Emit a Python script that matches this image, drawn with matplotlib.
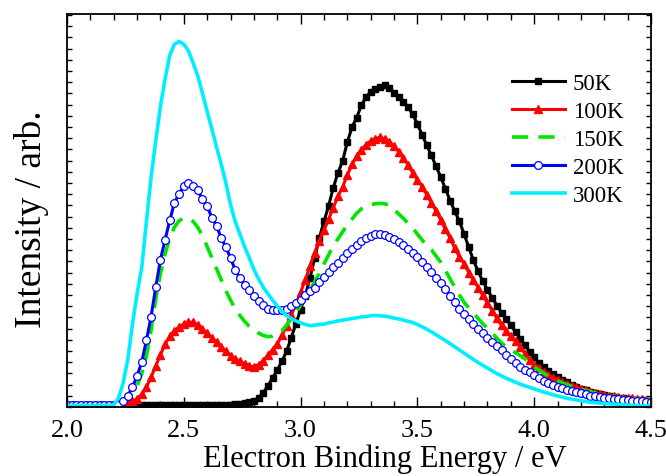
import matplotlib
matplotlib.use("Agg")
import matplotlib.pyplot as plt
import numpy as np
from matplotlib.ticker import MultipleLocator

plt.rcParams["font.family"] = ["Liberation Serif", "DejaVu Serif"]

# energy grid, 0.02 eV steps from 2.00 to 4.50
energy = np.round(np.arange(2.0, 4.5001, 0.02), 2)

k50 = [
    0.4, 0.4, 0.4, 0.4, 0.4, 0.4, 0.4, 0.4, 0.4, 0.4,          # 2.00
    0.4, 0.4, 0.4, 0.4, 0.4, 0.4, 0.4, 0.4, 0.4, 0.4,          # 2.20
    0.4, 0.4, 0.4, 0.4, 0.4, 0.4, 0.4, 0.4, 0.4, 0.4,          # 2.40
    0.4, 0.4, 0.5, 0.5, 0.5, 0.6, 0.7, 0.8, 1.0, 1.2,          # 2.60
    1.4, 2.4, 3.6, 5.4, 7.4, 9.4, 11.6, 14.2, 17.6, 21.2,      # 2.80
    24.8, 28.3, 32.8, 37.8, 43.0, 47.2, 51.2, 55.8, 59.6, 62.6,  # 3.00
    67.4, 71.2, 73.6, 76.8, 78.8, 80.2, 81.0, 81.4, 81.9, 81.2,  # 3.20
    80.0, 79.0, 77.6, 76.3, 74.5, 72.0, 69.3, 66.6, 64.0, 61.2,  # 3.40
    58.5, 55.5, 52.5, 49.8, 47.2, 44.0, 40.6, 37.3, 34.5, 32.0,  # 3.60
    29.8, 27.8, 25.8, 24.0, 22.4, 20.8, 19.1, 17.4, 15.7, 14.1,  # 3.80
    12.6, 11.2, 10.2, 9.2, 8.4, 7.6, 6.9, 6.3, 5.7, 5.2,       # 4.00
    4.7, 4.2, 3.9, 3.6, 3.3, 3.1, 2.8, 2.6, 2.4, 2.2,          # 4.20
    2.1, 1.9, 1.8, 1.7, 1.6, 1.5,                              # 4.40
]

k100 = [
    0.5, 0.5, 0.5, 0.5, 0.5, 0.5, 0.5, 0.5, 0.5, 0.5,
    0.6, 0.8, 1.0, 1.2, 1.5, 2.1, 3.2, 5.0, 7.6, 10.5,
    13.3, 16.0, 18.0, 19.3, 20.4, 21.1, 21.5, 21.6, 20.8, 19.8,
    18.8, 17.6, 16.5, 15.3, 14.2, 13.0, 12.3, 11.6, 11.0, 10.4,
    10.2, 10.8, 11.8, 13.2, 14.6, 16.1, 18.2, 20.7, 23.4, 26.2,
    29.2, 32.4, 35.8, 39.3, 42.2, 45.0, 47.8, 50.7, 53.6, 56.0,
    59.0, 61.7, 63.9, 65.5, 66.7, 67.7, 68.3, 68.6, 68.2, 67.5,
    66.3, 65.0, 63.3, 61.6, 59.6, 57.8, 56.1, 54.0, 52.0, 49.8,
    47.6, 45.2, 43.0, 40.4, 38.2, 36.4, 34.2, 32.3, 30.4, 28.4,
    26.5, 24.5, 22.6, 20.8, 19.4, 18.0, 16.7, 15.3, 13.6, 12.0,
    10.7, 9.8, 8.9, 8.1, 7.5, 6.9, 6.4, 5.9, 5.4, 5.0,
    4.6, 4.2, 3.9, 3.6, 3.3, 3.1, 2.9, 2.7, 2.6, 2.4,
    2.3, 2.2, 2.1, 2.0, 1.9, 1.8,
]

k150 = [
    0.4, 0.4, 0.4, 0.4, 0.4, 0.4, 0.4, 0.4, 0.4, 0.4,
    0.4, 0.7, 1.3, 2.2, 3.5, 5.4, 8.5, 13.0, 19.5, 27.5,
    34.0, 39.0, 43.0, 45.8, 47.4, 48.1, 48.0, 47.2, 45.7, 43.6,
    40.8, 38.0, 35.2, 32.4, 29.6, 27.2, 25.0, 23.3, 21.8, 20.5,
    19.6, 18.8, 18.2, 17.9, 18.0, 18.6, 19.4, 20.8, 22.4, 24.0,
    25.9, 27.8, 29.8, 31.9, 34.0, 36.4, 38.7, 41.0, 42.8, 44.6,
    46.3, 47.8, 49.3, 50.4, 51.1, 51.5, 51.7, 51.8, 51.7, 51.3,
    50.2, 49.1, 48.0, 46.7, 45.5, 44.0, 42.5, 41.0, 40.0, 38.4,
    36.8, 34.7, 32.6, 30.5, 28.5, 26.6, 25.2, 23.9, 22.5, 21.2,
    20.0, 18.8, 17.5, 16.3, 15.3, 14.5, 13.8, 13.1, 12.3, 11.2,
    10.2, 9.4, 8.6, 7.9, 7.2, 6.6, 6.1, 5.7, 5.3, 4.9,
    4.5, 4.2, 3.9, 3.6, 3.3, 3.1, 2.9, 2.7, 2.6, 2.4,
    2.3, 2.2, 2.1, 2.0, 1.9, 1.8,
]

k200 = [
    0.5, 0.5, 0.5, 0.5, 0.5, 0.5, 0.5, 0.5, 0.5, 0.5,
    0.4, 0.6, 1.5, 2.9, 5.0, 7.9, 11.4, 17.0, 23.0, 30.5,
    37.5, 42.6, 47.5, 52.0, 54.2, 56.3, 56.9, 56.2, 55.1, 52.8,
    51.1, 48.2, 46.1, 43.0, 40.7, 37.9, 34.9, 32.8, 31.0, 29.7,
    28.2, 27.0, 25.9, 25.0, 24.8, 24.8, 24.8, 25.0, 25.7, 26.4,
    27.1, 28.4, 29.5, 30.4, 31.8, 33.1, 34.3, 35.5, 36.7, 37.9,
    39.2, 40.2, 41.3, 42.2, 43.0, 43.6, 43.9, 44.0, 43.7, 43.3,
    42.8, 42.1, 41.3, 40.2, 39.2, 38.2, 37.0, 35.7, 34.3, 32.9,
    31.5, 29.9, 28.3, 26.6, 25.0, 23.6, 22.3, 21.1, 19.9, 18.7,
    17.5, 16.5, 15.4, 14.4, 13.3, 12.1, 11.1, 10.2, 9.5, 8.8,
    8.1, 7.4, 6.7, 6.2, 5.7, 5.2, 4.8, 4.4, 4.1, 3.8,
    3.5, 3.2, 2.9, 2.7, 2.5, 2.4, 2.2, 2.1, 2.0, 1.8,
    1.7, 1.6, 1.5, 1.4, 1.3, 1.2,
]

k300 = [
    0.4, 0.4, 0.4, 0.4, 0.4, 0.4, 0.4, 0.4, 0.4, 0.4,
    0.6, 2.2, 6.0, 12.0, 21.0, 28.8, 35.5, 47.2, 58.5, 67.8,
    76.5, 83.5, 89.5, 92.3, 93.0, 92.3, 90.6, 87.5, 84.2, 79.8,
    75.2, 70.8, 66.2, 61.8, 57.0, 51.5, 47.2, 44.0, 40.8, 38.0,
    35.0, 32.6, 30.5, 28.8, 27.2, 25.7, 24.4, 23.2, 22.5, 21.9,
    21.4, 21.0, 20.7, 20.8, 21.0, 21.1, 21.4, 21.6, 21.9, 22.1,
    22.3, 22.5, 22.7, 22.9, 23.0, 23.2, 23.3, 23.2, 23.1, 22.9,
    22.6, 22.4, 22.1, 21.8, 21.5, 21.0, 20.4, 19.8, 19.1, 18.4,
    17.6, 16.9, 16.1, 15.3, 14.5, 13.7, 12.9, 12.1, 11.3, 10.6,
    9.9, 9.2, 8.5, 7.9, 7.3, 6.8, 6.3, 5.8, 5.4, 5.0,
    4.6, 4.2, 3.8, 3.5, 3.1, 2.8, 2.5, 2.2, 2.0, 1.8,
    1.6, 1.4, 1.2, 1.1, 1.0, 0.9, 0.8, 0.7, 0.6, 0.6,
    0.5, 0.4, 0.4, 0.3, 0.3, 0.3,
]

fig = plt.figure(figsize=(6.66, 4.77), dpi=100)
ax = fig.add_axes([0.1006, 0.1447, 0.8769, 0.8239])

ax.plot(energy, k50, color="black", lw=2.2, marker="s", ms=5, label="50K")
ax.plot(energy, k100, color="red", lw=2.2, marker="^", ms=6.2, label="100K")
ax.plot(energy, k150, color="#00e600", lw=2.6, ls=(0, (4.5, 2.8)), label="150K")
ax.plot(energy, k200, color="blue", lw=2.2, marker="o", ms=5.6, mfc="white",
        mec="blue", mew=0.9, label="200K")
ax.plot(energy, k300, color="#00eeff", lw=2.6, label="300K")

ax.set_xlim(2.0, 4.5)
ax.set_ylim(0, 100)
ax.xaxis.set_major_locator(MultipleLocator(0.5))
ax.xaxis.set_minor_locator(MultipleLocator(0.1))
ax.yaxis.set_major_locator(MultipleLocator(2.85))
ax.set_yticklabels([])
ax.tick_params(which="both", direction="in", top=True, right=True, width=1.0)
ax.tick_params(which="major", axis="x", length=7, labelsize=19, pad=9)
ax.tick_params(which="minor", axis="x", length=4)
ax.tick_params(axis="y", length=3.5)
for sp in ax.spines.values():
    sp.set_linewidth(1.3)

ax.set_xlabel("Electron Binding Energy / eV", fontsize=22)
ax.xaxis.set_label_coords(0.545, -0.092)
ax.set_ylabel("Intensity / arb.", fontsize=27)
ax.yaxis.set_label_coords(-0.03, 0.48)

ax.legend(loc="upper left", bbox_to_anchor=(0.762, 0.85), frameon=False,
          fontsize=16.5, handlelength=2.3, handletextpad=0.35,
          labelspacing=0.3, borderpad=0, borderaxespad=0)

fig.savefig("out.png", dpi=100)
